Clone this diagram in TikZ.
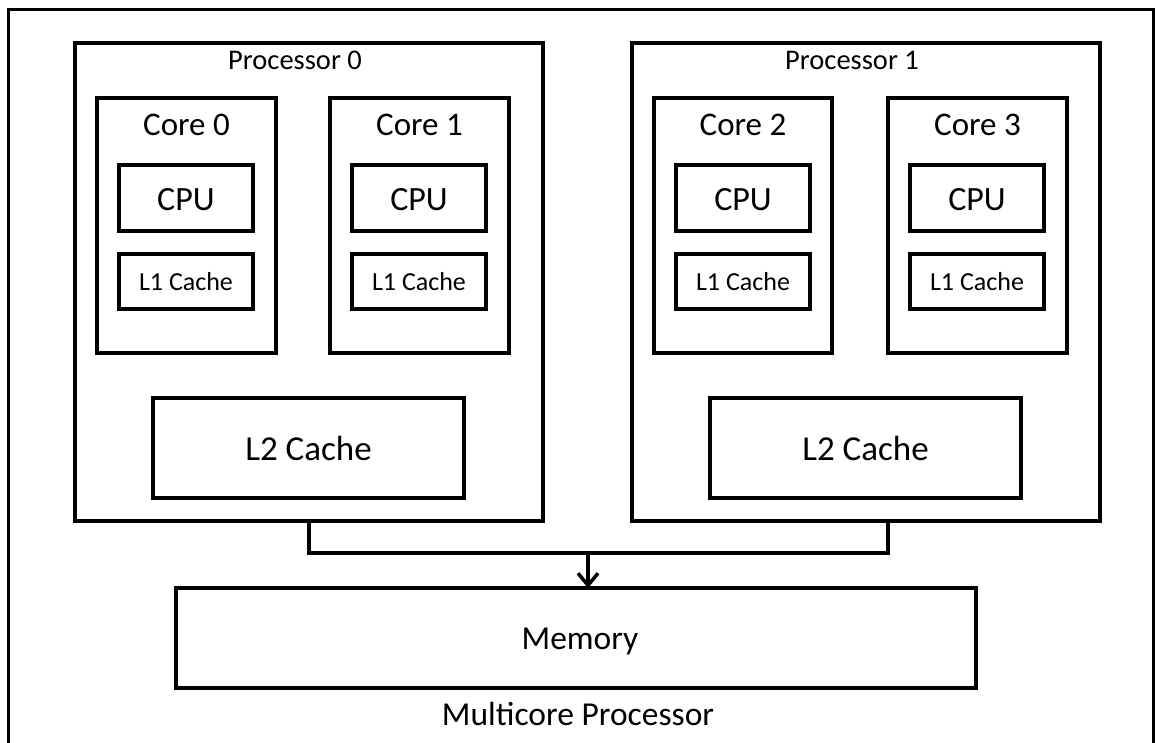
\documentclass[tikz,border=0pt]{standalone}
\usepackage{fontspec}
\setmainfont{Carlito}
\usetikzlibrary{fit,arrows.meta,calc}
\begin{document}
\begin{tikzpicture}[x=1pt,y=-1pt,
  box/.style={draw=black,line width=3.5pt,inner sep=0pt,outer sep=0pt,rectangle},
  lbl/.style={inner sep=0pt,anchor=base},
  fP/.style={font=\fontsize{28.5}{30}\selectfont},
  fC/.style={font=\fontsize{33}{36}\selectfont},
  fU/.style={font=\fontsize{34}{36}\selectfont},
  fL/.style={font=\fontsize{26}{28}\selectfont},
  fB/.style={font=\fontsize{35}{38}\selectfont},
  fM/.style={font=\fontsize{33.5}{36}\selectfont},
  conn/.style={line width=3.5pt,line cap=rect,line join=miter}]
\useasboundingbox (0,0) rectangle (1155,742);
% outer frame (bottom edge out of view)
\draw[line width=3pt] (8,750) -- (8,9) -- (1153,9) -- (1153,750);
% processor boxes
\node[box,fit={(75,43) (543,521)}] (P0) {};
\node[box,fit={(632,43) (1100,521)}] (P1) {};
\node[lbl,fP] (P0t) at (295,69) {Processor 0};
\node[lbl,fP] (P1t) at (852,69) {Processor 1};
% cores
\node[box,fit={(97,98) (276,353)}] (C0) {};
\node[box,fit={(330,98) (509,353)}] (C1) {};
\node[box,fit={(654,98) (832,353)}] (C2) {};
\node[box,fit={(888,98) (1067,353)}] (C3) {};
\node[lbl,fC] (C0t) at (186.5,135) {Core 0};
\node[lbl,fC] (C1t) at (419.5,135) {Core 1};
\node[lbl,fC] (C2t) at (743,135) {Core 2};
\node[lbl,fC] (C3t) at (977.5,135) {Core 3};
% CPUs
\node[box,fit={(119,165) (253,231)}] (U0) {};
\node[box,fit={(352,165) (486,231)}] (U1) {};
\node[box,fit={(676,165) (810,231)}] (U2) {};
\node[box,fit={(910,165) (1044,231)}] (U3) {};
\node[lbl,fU] (U0t) at (U0.center |- 0,210) {CPU};
\node[lbl,fU] (U1t) at (U1.center |- 0,210) {CPU};
\node[lbl,fU] (U2t) at (U2.center |- 0,210) {CPU};
\node[lbl,fU] (U3t) at (U3.center |- 0,210) {CPU};
% L1
\node[box,fit={(119,254) (253,309)}] (A0) {};
\node[box,fit={(352,254) (486,309)}] (A1) {};
\node[box,fit={(676,254) (810,309)}] (A2) {};
\node[box,fit={(910,254) (1044,309)}] (A3) {};
\node[lbl,fL] (A0t) at (A0.center |- 0,290) {L1 Cache};
\node[lbl,fL] (A1t) at (A1.center |- 0,290) {L1 Cache};
\node[lbl,fL] (A2t) at (A2.center |- 0,290) {L1 Cache};
\node[lbl,fL] (A3t) at (A3.center |- 0,290) {L1 Cache};
% L2
\node[box,fit={(153,398) (464,498)}] (B0) {};
\node[box,fit={(710,398) (1021,498)}] (B1) {};
\node[lbl,fB] (B0t) at (B0.center |- 0,460) {L2 Cache};
\node[lbl,fB] (B1t) at (B1.center |- 0,460) {L2 Cache};
% memory
\node[box,fit={(176,588) (976,688)}] (M) {};
\node[lbl,fM] (Mt) at (580,649) {Memory};
\node[lbl,fM] (MPt) at (578,725) {Multicore Processor};
% bus
\coordinate (bus) at (588,553);
\draw[conn] (P0.south) |- (bus);
\draw[conn] (bus) -| ([xshift=22pt]P1.south);
\draw[line width=3.5pt,-{Straight Barb[length=12pt,width=20pt,line width=3.5pt]}] (bus) -- (bus |- M.north);
\end{tikzpicture}
\end{document}
